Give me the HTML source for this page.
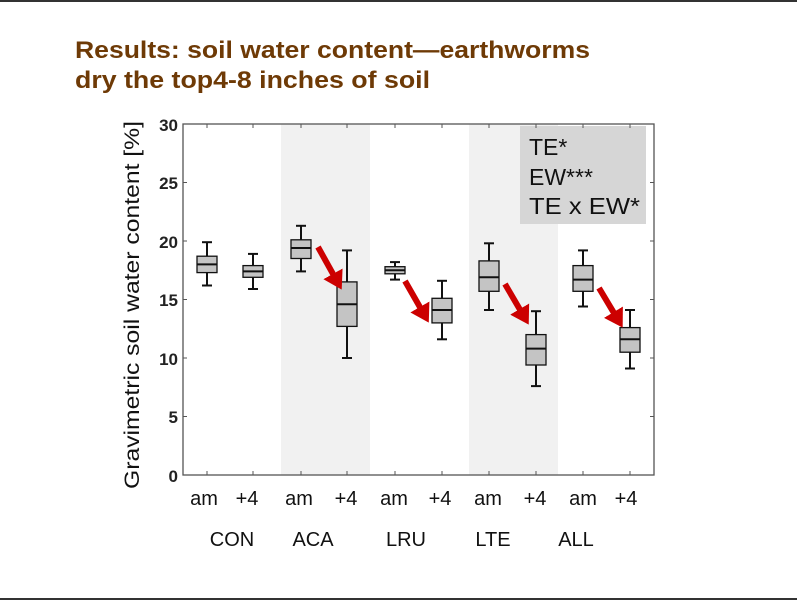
<!DOCTYPE html>
<html><head><meta charset="utf-8"><style>
body{margin:0;background:#fff;}
svg{display:block;font-family:"Liberation Sans",Arial,sans-serif;}
</style></head><body>
<svg width="797" height="600" viewBox="0 0 797 600" xmlns="http://www.w3.org/2000/svg">
<defs>
<marker id="ah" markerUnits="userSpaceOnUse" markerWidth="18" markerHeight="22" viewBox="0 0 18 22" refX="0.5" refY="11" orient="auto"><path d="M0,0 L18,11 L0,22 z" fill="#c00"/></marker>
</defs>
<rect width="797" height="600" fill="#fff"/>
<line x1="0" y1="1" x2="797" y2="1" stroke="#333" stroke-width="2"/>
<line x1="0" y1="599" x2="797" y2="599" stroke="#333" stroke-width="2"/>
<text x="75" y="58" font-size="24" font-weight="bold" fill="#6e3a06" textLength="515" lengthAdjust="spacingAndGlyphs">Results: soil water content—earthworms</text>
<text x="75" y="88" font-size="24" font-weight="bold" fill="#6e3a06" textLength="355" lengthAdjust="spacingAndGlyphs">dry the top4-8 inches of soil</text>
<rect x="281" y="124" width="89" height="351" fill="#f1f1f1"/>
<rect x="469" y="124" width="89" height="351" fill="#f1f1f1"/>
<rect x="520" y="126" width="126" height="98" fill="#d6d6d6"/>
<text x="529" y="155" font-size="23" fill="#111">TE*</text>
<text x="529" y="185" font-size="23" fill="#111">EW***</text>
<text x="529" y="214" font-size="23" fill="#111" textLength="111" lengthAdjust="spacingAndGlyphs">TE x EW*</text>
<rect x="183" y="124" width="471" height="351" fill="none" stroke="#555" stroke-width="1.3"/>
<g stroke="#555" stroke-width="1">
<line x1="183" y1="182.5" x2="187" y2="182.5"/><line x1="183" y1="241" x2="187" y2="241"/><line x1="183" y1="299.5" x2="187" y2="299.5"/><line x1="183" y1="358" x2="187" y2="358"/><line x1="183" y1="416.5" x2="187" y2="416.5"/>
<line x1="654" y1="182.5" x2="650" y2="182.5"/><line x1="654" y1="241" x2="650" y2="241"/><line x1="654" y1="299.5" x2="650" y2="299.5"/><line x1="654" y1="358" x2="650" y2="358"/><line x1="654" y1="416.5" x2="650" y2="416.5"/>
<line x1="207" y1="475" x2="207" y2="471"/><line x1="253" y1="475" x2="253" y2="471"/><line x1="301" y1="475" x2="301" y2="471"/><line x1="347" y1="475" x2="347" y2="471"/><line x1="395" y1="475" x2="395" y2="471"/><line x1="442" y1="475" x2="442" y2="471"/><line x1="489" y1="475" x2="489" y2="471"/><line x1="536" y1="475" x2="536" y2="471"/><line x1="583" y1="475" x2="583" y2="471"/><line x1="630" y1="475" x2="630" y2="471"/>
<line x1="207" y1="124" x2="207" y2="128"/><line x1="253" y1="124" x2="253" y2="128"/><line x1="301" y1="124" x2="301" y2="128"/><line x1="347" y1="124" x2="347" y2="128"/><line x1="395" y1="124" x2="395" y2="128"/><line x1="442" y1="124" x2="442" y2="128"/><line x1="489" y1="124" x2="489" y2="128"/><line x1="536" y1="124" x2="536" y2="128"/><line x1="583" y1="124" x2="583" y2="128"/><line x1="630" y1="124" x2="630" y2="128"/>
</g>
<g font-size="17" font-weight="bold" fill="#222" text-anchor="end">
<text x="178" y="131">30</text><text x="178" y="189">25</text><text x="178" y="248">20</text><text x="178" y="306">15</text><text x="178" y="365">10</text><text x="178" y="423">5</text><text x="178" y="482">0</text>
</g>
<text transform="translate(139,305) rotate(-90)" font-size="21" fill="#111" text-anchor="middle" textLength="368" lengthAdjust="spacingAndGlyphs">Gravimetric soil water content [%]</text>
<g font-size="20" fill="#111" text-anchor="middle">
<text x="204" y="505">am</text><text x="247" y="505">+4</text>
<text x="299" y="505">am</text><text x="346" y="505">+4</text>
<text x="394" y="505">am</text><text x="440" y="505">+4</text>
<text x="488" y="505">am</text><text x="535" y="505">+4</text>
<text x="583" y="505">am</text><text x="626" y="505">+4</text>
<text x="232" y="546">CON</text><text x="313" y="546">ACA</text><text x="406" y="546">LRU</text><text x="493" y="546">LTE</text><text x="576" y="546">ALL</text>
</g>
<g stroke="#111" stroke-width="2">
<line x1="207" y1="285.5" x2="207" y2="242.2"/><line x1="202" y1="285.5" x2="212" y2="285.5"/><line x1="202" y1="242.2" x2="212" y2="242.2"/>
<rect x="197" y="256.2" width="20" height="16.4" fill="#c4c4c4" stroke-width="1.3"/><line x1="197" y1="264.4" x2="217" y2="264.4"/>
<line x1="253" y1="289" x2="253" y2="253.9"/><line x1="248" y1="289" x2="258" y2="289"/><line x1="248" y1="253.9" x2="258" y2="253.9"/>
<rect x="243" y="265.6" width="20" height="11.7" fill="#c4c4c4" stroke-width="1.3"/><line x1="243" y1="271.4" x2="263" y2="271.4"/>
<line x1="301" y1="271.4" x2="301" y2="225.8"/><line x1="296" y1="271.4" x2="306" y2="271.4"/><line x1="296" y1="225.8" x2="306" y2="225.8"/>
<rect x="291" y="239.8" width="20" height="18.7" fill="#c4c4c4" stroke-width="1.3"/><line x1="291" y1="248" x2="311" y2="248"/>
<line x1="347" y1="358" x2="347" y2="250.4"/><line x1="342" y1="358" x2="352" y2="358"/><line x1="342" y1="250.4" x2="352" y2="250.4"/>
<rect x="337" y="281.9" width="20" height="44.5" fill="#c4c4c4" stroke-width="1.3"/><line x1="337" y1="304.2" x2="357" y2="304.2"/>
<line x1="395" y1="279.6" x2="395" y2="262.1"/><line x1="390" y1="279.6" x2="400" y2="279.6"/><line x1="390" y1="262.1" x2="400" y2="262.1"/>
<rect x="385" y="266.7" width="20" height="7.1" fill="#c4c4c4" stroke-width="1.3"/><line x1="385" y1="270.3" x2="405" y2="270.3"/>
<line x1="442" y1="339.3" x2="442" y2="280.8"/><line x1="437" y1="339.3" x2="447" y2="339.3"/><line x1="437" y1="280.8" x2="447" y2="280.8"/>
<rect x="432" y="298.3" width="20" height="24.6" fill="#c4c4c4" stroke-width="1.3"/><line x1="432" y1="310" x2="452" y2="310"/>
<line x1="489" y1="310" x2="489" y2="243.3"/><line x1="484" y1="310" x2="494" y2="310"/><line x1="484" y1="243.3" x2="494" y2="243.3"/>
<rect x="479" y="260.9" width="20" height="30.4" fill="#c4c4c4" stroke-width="1.3"/><line x1="479" y1="277.3" x2="499" y2="277.3"/>
<line x1="536" y1="386.1" x2="536" y2="311.2"/><line x1="531" y1="386.1" x2="541" y2="386.1"/><line x1="531" y1="311.2" x2="541" y2="311.2"/>
<rect x="526" y="334.6" width="20" height="30.4" fill="#c4c4c4" stroke-width="1.3"/><line x1="526" y1="348.6" x2="546" y2="348.6"/>
<line x1="583" y1="306.5" x2="583" y2="250.4"/><line x1="578" y1="306.5" x2="588" y2="306.5"/><line x1="578" y1="250.4" x2="588" y2="250.4"/>
<rect x="573" y="265.6" width="20" height="25.7" fill="#c4c4c4" stroke-width="1.3"/><line x1="573" y1="279.6" x2="593" y2="279.6"/>
<line x1="630" y1="368.5" x2="630" y2="310"/><line x1="625" y1="368.5" x2="635" y2="368.5"/><line x1="625" y1="310" x2="635" y2="310"/>
<rect x="620" y="327.6" width="20" height="24.6" fill="#c4c4c4" stroke-width="1.3"/><line x1="620" y1="339.3" x2="640" y2="339.3"/>
</g>
<g stroke="#c00" stroke-width="6" marker-end="url(#ah)">
<line x1="318" y1="247" x2="333.2" y2="274.3"/>
<line x1="405" y1="281" x2="420.1" y2="307.4"/>
<line x1="505" y1="284" x2="519.9" y2="309.5"/>
<line x1="599" y1="288" x2="613.7" y2="312.6"/>
</g>
</svg>
</body></html>
